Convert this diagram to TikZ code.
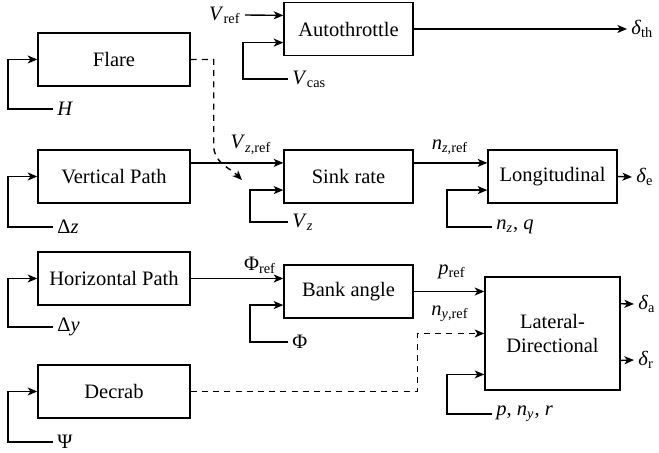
\documentclass[tikz,border=0pt]{standalone}
\usepackage{fontspec}
\setmainfont{Liberation Serif}
\usetikzlibrary{arrows.meta,calc}
\newcommand{\fsz}{\fontsize{10.25pt}{12.3pt}\selectfont}
\begin{document}
\begin{tikzpicture}[x=0.5pt,y=-0.5pt,
  blk/.style={draw, line width=0.7pt, minimum width=#1, minimum height=26.5pt, inner sep=0pt, font=\fsz, align=center},
  blk/.default=76pt,
  lbl/.style={inner sep=2pt, font=\fsz},
  con/.style={line width=0.7pt, -{Stealth[length=4.8pt,width=4pt,inset=1.3pt]}},
  dsh/.style={con, dash pattern=on 3pt off 2.6pt}]
\useasboundingbox (0,0) rectangle (659,453);

% blocks
\node[blk] (flare) at (114,59.5) {Flare};
\node[blk=64.5pt] (at) at (348.5,29) {Autothrottle};
\node[blk] (vp) at (114,176.5) {Vertical Path};
\node[blk=64.5pt] (sink) at (348.5,176.5) {Sink rate};
\node[blk=64.5pt] (long) at (552.5,176.5) {Longitudinal};
\node[blk] (hp) at (114,278.5) {Horizontal Path};
\node[blk=64.5pt] (bank) at (348.5,291.5) {Bank angle};
\node[blk=67.5pt, minimum height=56.5pt] (lat) at (552.5,333.5) {Lateral-\\Directional};
\node[blk] (dec) at (114,391.5) {Decrab};

% input points
\coordinate (at1) at ($(at.north west)!0.25!(at.south west)$);
\coordinate (at2) at ($(at.north west)!0.75!(at.south west)$);
\coordinate (s1) at ($(sink.north west)!0.25!(sink.south west)$);
\coordinate (s2) at ($(sink.north west)!0.75!(sink.south west)$);
\coordinate (l1) at ($(long.north west)!0.25!(long.south west)$);
\coordinate (l2) at ($(long.north west)!0.75!(long.south west)$);
\coordinate (b2) at ($(bank.north west)!0.75!(bank.south west)$);
\coordinate (lt3) at ($(lat.north west)!0.858!(lat.south west)$);
\coordinate (la) at ($(lat.north east)!0.24!(lat.south east)$);
\coordinate (lr) at ($(lat.north east)!0.735!(lat.south east)$);
\coordinate (sinkin) at (242,180);

% labels
\node[lbl, anchor=east] (vref) at (245,15) {\textit{V}\textsubscript{ref}};
\node[lbl, anchor=west] (vcas) at (288,79) {\textit{V}\textsubscript{cas}};
\node[lbl, anchor=west] (dth) at (627,29) {\textit{δ}\textsubscript{th}};
\node[lbl, anchor=west] (hh) at (53,109) {\textit{H}};
\node[lbl, anchor=west] (dz) at (53,227) {Δ\textit{z}};
\node[lbl] (vzref) at (251,145) {\textit{V}\textsubscript{\textit{z},ref}};
\node[lbl, anchor=west] (vz) at (288,222) {\textit{V}\textsubscript{\textit{z}}};
\node[lbl] (nzref) at (450,147) {\textit{n}\textsubscript{\textit{z},ref}};
\node[lbl, anchor=west] (nzq) at (492,227) {\textit{n}\textsubscript{\textit{z}}, \textit{q}};
\node[lbl, anchor=west] (de) at (632,177) {\textit{δ}\textsubscript{e}};
\node[lbl, anchor=west] (dy) at (53,327) {Δ\textit{y}};
\node[lbl] (phiref) at (260,265) {Φ\textsubscript{ref}};
\node[lbl, anchor=west] (phi) at (288,342) {Φ};
\node[lbl] (pref) at (452,272) {\textit{p}\textsubscript{ref}};
\node[lbl] (nyref) at (450,314) {\textit{n}\textsubscript{\textit{y},ref}};
\node[lbl, anchor=west] (pnr) at (492,414) {\textit{p}, \textit{n}\textsubscript{\textit{y}}, \textit{r}};
\node[lbl, anchor=west] (da) at (634,304) {\textit{δ}\textsubscript{a}};
\node[lbl, anchor=west] (dr) at (634,360) {\textit{δ}\textsubscript{r}};
\node[lbl, anchor=west] (psi) at (53,442) {Ψ};

% feedback loops, left column
\draw[con] (hh.west) -- ++(-45,0) |- (flare.west);
\draw[con] (dz.west) -- ++(-45,0) |- (vp.west);
\draw[con] (dy.west) -- ++(-45,0) |- (hp.west);
\draw[con] (psi.west) -- ++(-45,0) |- (dec.west);

% autothrottle
\draw[con] (vref.east) -- (at1);
\draw[con] (vcas.west) -- ++(-45,0) |- (at2);
\draw[con] (at.east) -- (dth.west);

% vertical chain
\draw[con] (vp.east |- s1) -- (s1);
\draw[con] (vz.west) -- ++(-38,0) |- (s2);
\draw[con] (sink.east |- l1) -- (l1);
\draw[con] (nzq.west) -- ++(-45,0) |- (l2);
\draw[con] (long.east) -- (de.west);

% lateral chain
\draw[con] (hp.east) -- (hp.east -| bank.west);
\draw[con] (phi.west) -- ++(-38,0) |- (b2);
\draw[con] (bank.east) -- (bank.east -| lat.west);
\draw[con] (pnr.west) -- ++(-45,0) |- (lt3);
\draw[con] (la) -- (da.west);
\draw[con] (lr) -- (dr.west);

% dashed
\draw[dsh] (flare.east) -- ++(23,0) -- ++(0,86) to[out=90+180,in=135] (sinkin);
\draw[dsh] (dec.east) -- ++(227,0) |- (lat.west);
\end{tikzpicture}
\end{document}
